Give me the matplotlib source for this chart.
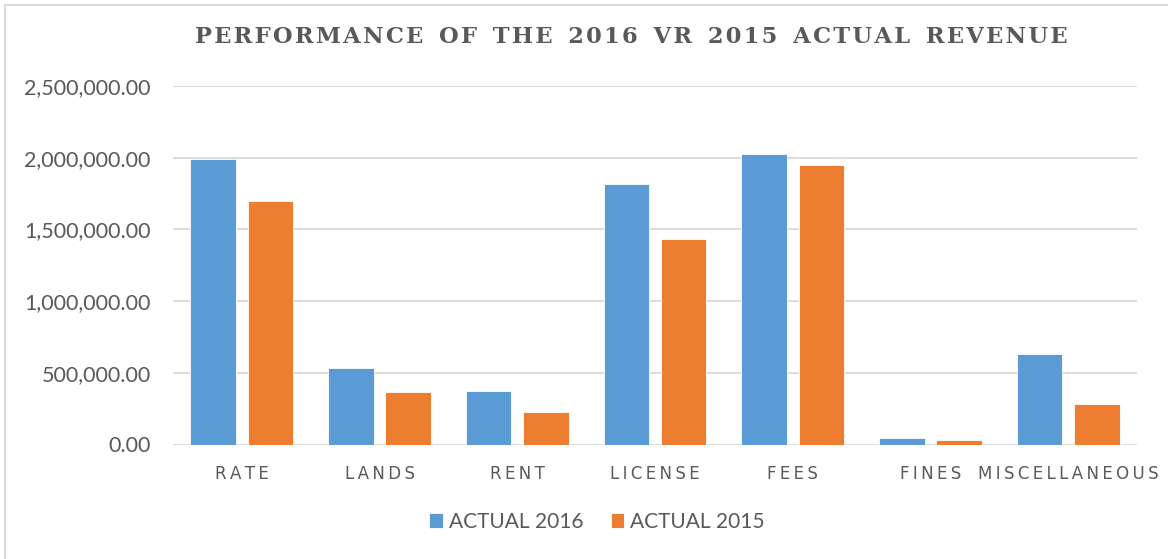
import numpy as np
import matplotlib.pyplot as plt
from matplotlib.patches import Rectangle

# values
categories = ["RATE", "LANDS", "RENT", "LICENSE", "FEES", "FINES", "MISCELLANEOUS"]
actual_2016 = [1988000, 533000, 374000, 1820000, 2026000, 44000, 634000]
actual_2015 = [1700000, 365000, 225000, 1432000, 1950000, 29000, 283000]
series_names = ["ACTUAL 2016", "ACTUAL 2015"]
title = "PERFORMANCE OF THE 2016 VR 2015 ACTUAL REVENUE"

blue = "#5B9BD5"
orange = "#ED7D31"
text_gray = "#595959"
grid_gray = "#D9D9D9"
calibri_like = ["Lato", "DejaVu Sans"]


def spread(s, gap, word_gap=" "):
    # fake letter spacing
    return word_gap.join(gap.join(w) for w in s.split(" "))


W, H = 1168, 559
fig = plt.figure(figsize=(W / 100, H / 100), dpi=100)
ax = fig.add_axes([173 / W, 1 - 444.5 / H, (1137 - 173) / W, (444.5 - 86) / H])

x = np.arange(len(categories))
bw = 0.33
off = 0.208
ax.bar(x - off, actual_2016, bw, color=blue, edgecolor="white", linewidth=0.6, label=series_names[0], zorder=3)
ax.bar(x + off, actual_2015, bw, color=orange, edgecolor="white", linewidth=0.6, label=series_names[1], zorder=3)

ax.set_xlim(-0.5, len(categories) - 0.5)
ax.set_ylim(0, 2500000)
ax.set_yticks(np.arange(0, 2500001, 500000))
ax.yaxis.set_major_formatter(plt.FuncFormatter(lambda v, p: f"{v:,.2f}"))
ax.grid(axis="y", color=grid_gray, linewidth=1.3, zorder=0)
for s in ax.spines.values():
    s.set_visible(False)
ax.tick_params(axis="both", length=0)
ax.tick_params(axis="y", labelsize=15.5, labelcolor=text_gray, pad=16)
for lab in ax.get_yticklabels():
    lab.set_family(calibri_like)

ax.set_xticks(x)
ax.set_xticklabels([spread(c, "\u2009", " \u2009") for c in categories], fontsize=12, color=text_gray,
                   family="DejaVu Sans")
ax.tick_params(axis="x", pad=15)

fig.text(0.5 * (193 + 1070) / W, 1 - 37 / H, spread(title, "\u200a", "  "),
         ha="center", va="center", fontsize=16.3, fontweight="bold",
         family="DejaVu Serif", color=text_gray)

leg = fig.legend(loc="center", bbox_to_anchor=(597 / W, 1 - 522 / H), ncol=2, frameon=False,
                 handlelength=0.65, handleheight=0.75, handletextpad=0.3, columnspacing=1.3,
                 prop={"family": calibri_like, "size": 15})
for t in leg.get_texts():
    t.set_color(text_gray)

fig.patches.append(Rectangle((5 / W, -0.1), 1.2, 1 - 5 / H + 0.1, transform=fig.transFigure,
                             fill=False, edgecolor=grid_gray, linewidth=1.5))

fig.savefig("out.png", dpi=100)
